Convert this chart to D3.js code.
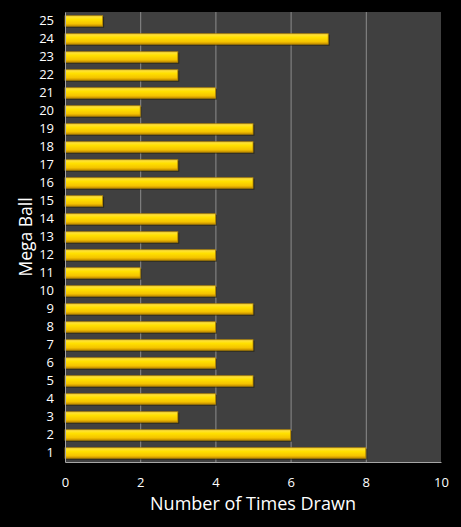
<!DOCTYPE html>
<html>
<head>
<meta charset="utf-8">
<script src="https://cdn.jsdelivr.net/npm/d3@7"></script>
<style>
  body { margin: 0; background: #000; }
  svg { display: block; }
</style>
</head>
<body>
<svg id="chart" width="461" height="527"></svg>
<script>
// data
const balls = ["1","2","3","4","5","6","7","8","9","10","11","12","13","14","15","16","17","18","19","20","21","22","23","24","25"];
const timesDrawn = [8,6,3,4,5,4,5,4,5,4,2,4,3,4,1,5,3,5,5,2,4,3,3,7,1];
const xTicks = [0,2,4,6,8,10];

const width = 461, height = 527;
const margin = {top: 12, right: 20, bottom: 65, left: 65};

const svg = d3.select("#chart");

// defs - bar gradient
const defs = svg.append("defs");
const grad = defs.append("linearGradient")
  .attr("id", "barGrad")
  .attr("x1", 0).attr("y1", 0).attr("x2", 0).attr("y2", 1);
grad.append("stop").attr("offset", "0%").attr("stop-color", "#ffe34d");
grad.append("stop").attr("offset", "35%").attr("stop-color", "#ffe000");
grad.append("stop").attr("offset", "75%").attr("stop-color", "#f5c400");
grad.append("stop").attr("offset", "100%").attr("stop-color", "#c89000");

/// scales ///
const xScale = d3.scaleLinear()
  .domain([0, 10])
  .range([margin.left, width - margin.right]);
const yScale = d3.scaleBand()
  .domain(balls.slice().reverse())
  .range([margin.top, height - margin.bottom])
  .paddingInner(0.42)
  .paddingOuter(0.21);

// plot area
svg.append("rect")
  .attr("x", xScale(0)).attr("y", margin.top)
  .attr("width", xScale(10) - xScale(0))
  .attr("height", height - margin.bottom - margin.top)
  .attr("fill", "#404040");

// gridlines
svg.append("g")
  .selectAll("line")
  .data(xTicks.filter(d => d > 0 && d < 10))
  .join("line")
    .attr("x1", d => xScale(d) + 0.5).attr("x2", d => xScale(d) + 0.5)
    .attr("y1", margin.top).attr("y2", height - margin.bottom)
    .attr("stroke", "#8c8c8c").attr("stroke-width", 1);

// bar shadows
const bars = svg.append("g");
bars.selectAll(".shadow")
  .data(balls)
  .join("rect")
    .attr("class", "shadow")
    .attr("x", xScale(0))
    .attr("y", d => yScale(d) + 1)
    .attr("width", (d, i) => xScale(timesDrawn[i]) - xScale(0) + 1.5)
    .attr("height", yScale.bandwidth() + 0.5)
    .attr("fill", "#1e1a00").attr("opacity", 0.55);

bars.selectAll(".bar")
  .data(balls)
  .join("rect")
    .attr("class", "bar")
    .attr("x", xScale(0))
    .attr("y", d => yScale(d))
    .attr("width", (d, i) => xScale(timesDrawn[i]) - xScale(0))
    .attr("height", yScale.bandwidth())
    .attr("fill", "url(#barGrad)")
    .attr("stroke", "#b88a00").attr("stroke-width", 0.8);

/// axes ///
const xAxis = g => g
  .attr("transform", `translate(0, ${height - margin.bottom})`)
  .call(d3.axisBottom(xScale).tickValues(xTicks).tickSize(0).tickPadding(16))
  .call(g => g.select(".domain").attr("stroke", "#a6a6a6"));
const yAxis = g => g
  .attr("transform", `translate(${margin.left}, 0)`)
  .call(d3.axisLeft(yScale).tickSize(0).tickPadding(11))
  .call(g => g.select(".domain").attr("stroke", "#a6a6a6"));

svg.append("g").call(xAxis);
svg.append("g").call(yAxis);

svg.selectAll(".tick text")
  .attr("fill", "#fff")
  .attr("font-family", "Open Sans, sans-serif")
  .attr("font-size", 13);

// titles
svg.append("text")
  .attr("x", 253).attr("y", 510)
  .attr("text-anchor", "middle")
  .attr("fill", "#fff")
  .attr("font-family", "Open Sans, sans-serif")
  .attr("font-size", 18)
  .text("Number of Times Drawn");

svg.append("text")
  .attr("transform", `translate(32, ${(margin.top + height - margin.bottom) / 2}) rotate(-90)`)
  .attr("text-anchor", "middle")
  .attr("fill", "#fff")
  .attr("font-family", "Open Sans, sans-serif")
  .attr("font-size", 17.5)
  .text("Mega Ball");
</script>
</body>
</html>
